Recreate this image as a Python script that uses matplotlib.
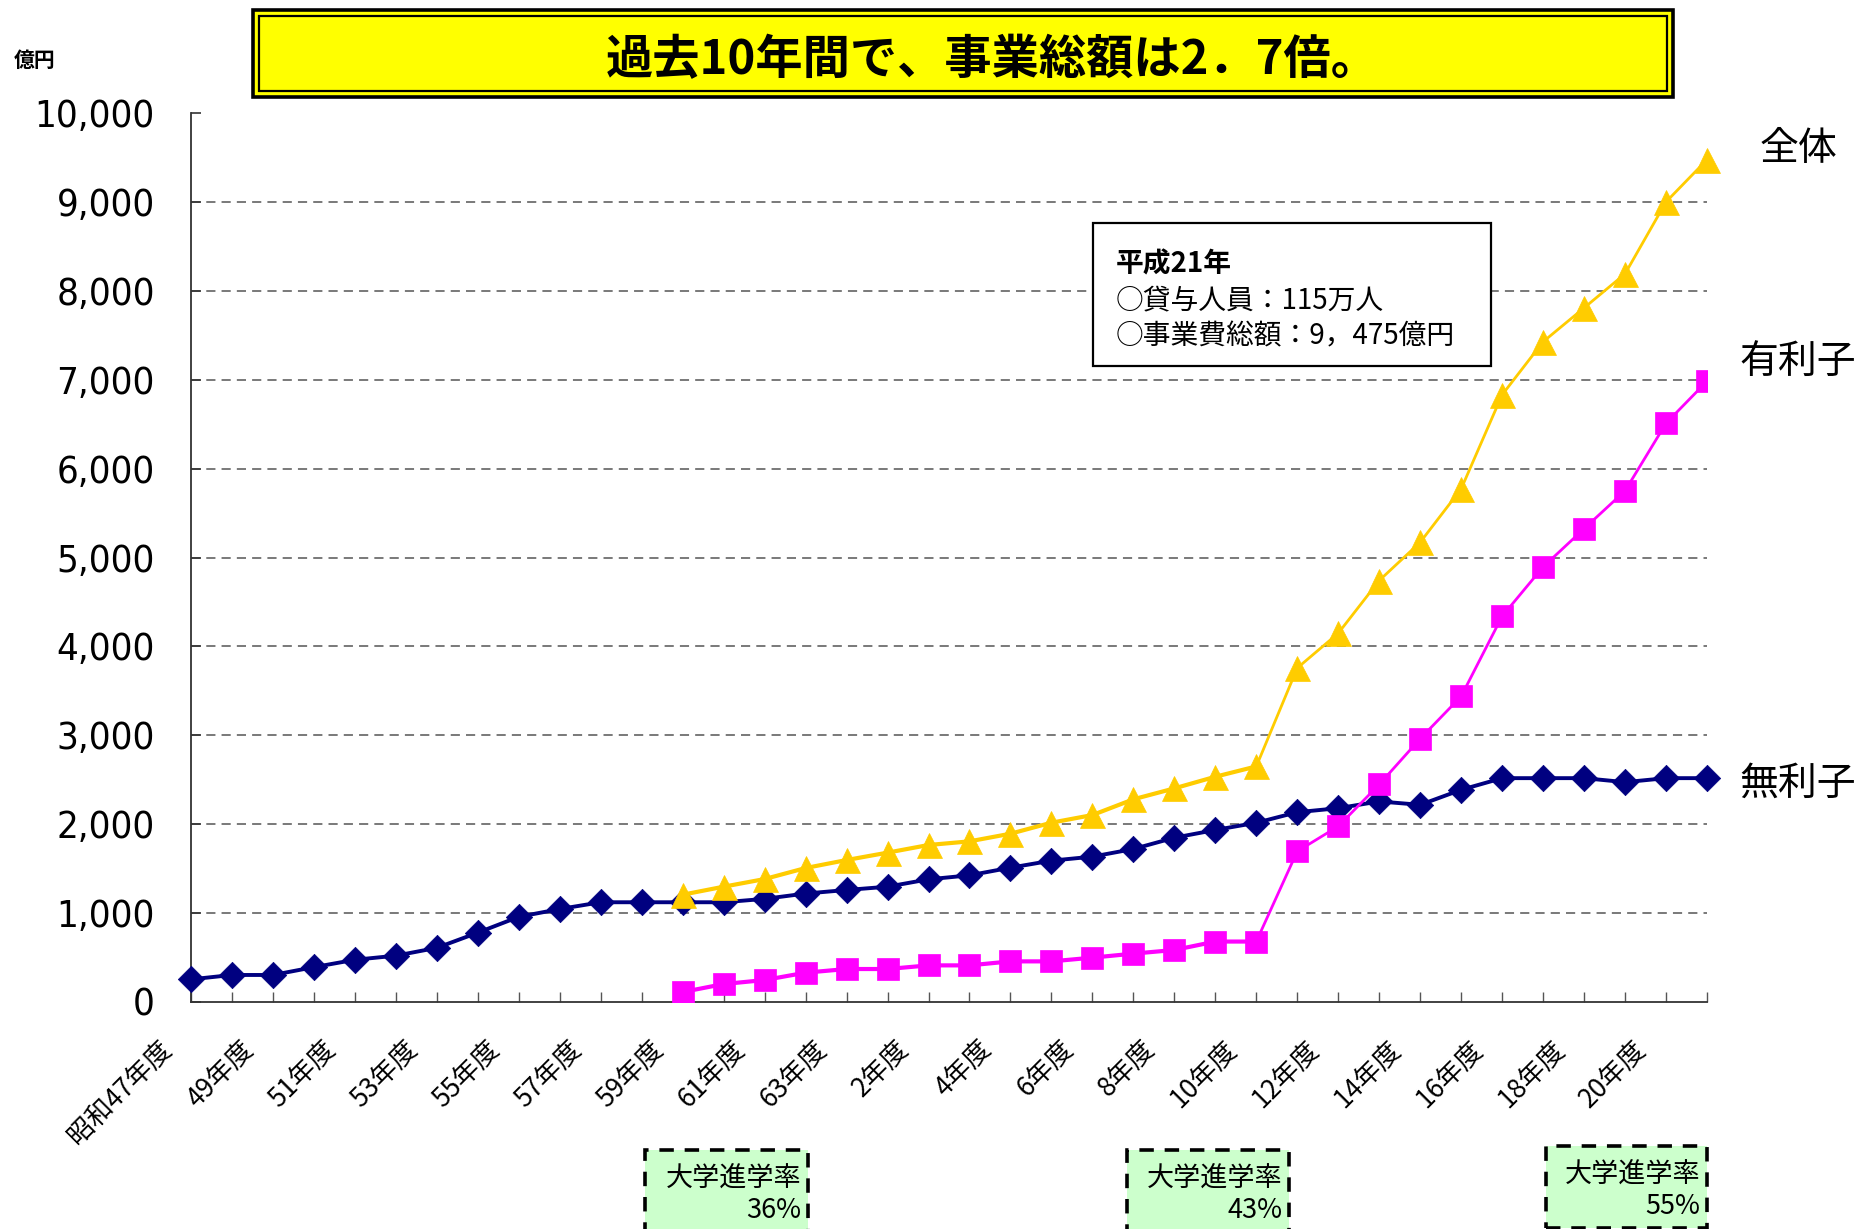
import numpy as np
import matplotlib
matplotlib.use("Agg")
import matplotlib.pyplot as plt
from matplotlib.path import Path
from matplotlib.patches import Rectangle
from matplotlib.transforms import ScaledTranslation

plt.rcParams['font.family'] = ['Noto Sans CJK JP', 'DejaVu Sans']

# ---------------- data ----------------
categories = ["昭和47年度", "48年度", "49年度", "50年度", "51年度", "52年度", "53年度",
              "54年度", "55年度", "56年度", "57年度", "58年度", "59年度", "60年度",
              "61年度", "62年度", "63年度", "元年度", "2年度", "3年度", "4年度",
              "5年度", "6年度", "7年度", "8年度", "9年度", "10年度", "11年度",
              "12年度", "13年度", "14年度", "15年度", "16年度", "17年度", "18年度",
              "19年度", "20年度", "21年度"]

muri = [255, 304, 304, 392, 475, 521, 609, 780, 958, 1046, 1122, 1122, 1122, 1122,
        1160, 1220, 1260, 1297, 1380, 1425, 1511, 1590, 1635, 1721, 1848, 1935,
        2016, 2135, 2180, 2256, 2218, 2387, 2518, 2518, 2518, 2473, 2518, 2518]

yuri = [None] * 12 + [112, 202, 247, 330, 371, 371, 412, 412, 457, 457, 499, 544,
                      585, 680, 680, 1695, 1976, 2447, 2962, 3438, 4339, 4894,
                      5324, 5750, 6510, 6983]

zentai = [None] * 12 + [1207, 1297, 1383, 1507, 1597, 1680, 1766, 1807, 1893, 2017,
                        2103, 2280, 2403, 2534, 2650, 3757, 4148, 4741, 5171, 5772,
                        6830, 7427, 7808, 8191, 9000, 9475]

yticks = [0, 1000, 2000, 3000, 4000, 5000, 6000, 7000, 8000, 9000, 10000]
ytick_labels = ["0", "1,000", "2,000", "3,000", "4,000", "5,000", "6,000",
                "7,000", "8,000", "9,000", "10,000"]

title = "過去10年間で、事業総額は2．7倍。"
unit_label = "億円"
series_names = ["全体", "有利子", "無利子"]
info_lines = ["平成21年", "○貸与人員：115万人", "○事業費総額：9，475億円"]
rate_boxes = [("大学進学率", "36%"), ("大学進学率", "43%"), ("大学進学率", "55%")]

# ---------------- figure ----------------
W, H = 1863, 1229
DPI = 100
fig = plt.figure(figsize=(W / DPI, H / DPI), dpi=DPI)


def fx(x):
    return x / W


def fy(y):
    return 1 - y / H


ax_l, ax_r, ax_t, ax_b = 191, 1707, 113, 1002
ax = fig.add_axes([fx(ax_l), fy(ax_b), fx(ax_r - ax_l), (ax_b - ax_t) / H])

x = np.arange(len(categories))
m = np.array(muri, dtype=float)
yu = np.array([np.nan if v is None else v for v in yuri], dtype=float)
ze = np.array([np.nan if v is None else v for v in zentai], dtype=float)

NAVY = "#000080"
MAG = "#FF00FF"
GOLD = "#FFCC00"

diamond = Path([(0, 1), (1, 0), (0, -1), (-1, 0), (0, 1)],
               [Path.MOVETO, Path.LINETO, Path.LINETO, Path.LINETO, Path.CLOSEPOLY])

split = 26  # lines become thinner after this point

ax.plot(x, m, color=NAVY, lw=2.8, marker=diamond, ms=19, mfc=NAVY, mec=NAVY,
        mew=0.5, zorder=3, clip_on=False)

ax.plot(x[:split + 1], yu[:split + 1], color=MAG, lw=3.0, zorder=4)
ax.plot(x[split:], yu[split:], color=MAG, lw=2.0, zorder=4)
ax.plot(x, yu, ls="none", marker="s", ms=16, mfc=MAG, mec=MAG, mew=0.5, zorder=5)

ax.plot(x[:split + 1], ze[:split + 1], color=GOLD, lw=3.0, zorder=6)
ax.plot(x[split:], ze[split:], color=GOLD, lw=2.0, zorder=6)
ax.plot(x, ze, ls="none", marker="^", ms=18, mfc=GOLD, mec=GOLD, mew=0.5,
        zorder=7, clip_on=False)

ax.set_xlim(0, len(categories) - 1)
ax.set_ylim(0, 10000)

ax.set_yticks(yticks)
ax.set_yticklabels(ytick_labels, family='DejaVu Sans', fontstretch='condensed',
                   fontsize=27.5)
ax.tick_params(axis='y', direction='in', length=7, width=1.2, pad=26, colors='#333333',
               labelcolor='black')

ax.set_xticks(x)
ax.set_xticklabels([c if i % 2 == 0 else "" for i, c in enumerate(categories)],
                   rotation=45, ha='right', va='top', fontsize=19)
ax.tick_params(axis='x', direction='in', length=7, width=1.0, pad=24, colors='#555555',
               labelcolor='black')
offset = ScaledTranslation(-14 / DPI, 0, fig.dpi_scale_trans)
for lab in ax.get_xticklabels():
    lab.set_transform(lab.get_transform() + offset)

for v in yticks[1:-1]:
    ax.axhline(v, color='#555555', lw=1.1, ls=(0, (6, 4)), zorder=1)

for s in ['top', 'right']:
    ax.spines[s].set_visible(False)
ax.spines['left'].set_color('#333333')
ax.spines['bottom'].set_color('#333333')
ax.spines['left'].set_linewidth(1.3)
ax.spines['bottom'].set_linewidth(1.3)

# ---------------- title box ----------------
fig.patches.append(Rectangle((fx(253), fy(97)), fx(1673 - 253), (97 - 10) / H,
                             transform=fig.transFigure, facecolor='#FFFF00',
                             edgecolor='black', lw=2.6, zorder=1))
fig.patches.append(Rectangle((fx(259), fy(91)), fx(1661 - 259 + 6), (91 - 16) / H,
                             transform=fig.transFigure, facecolor='none',
                             edgecolor='black', lw=1.6, zorder=2))
fig.text(fx(992), fy(60), title, ha='center', va='center', fontsize=34,
         fontweight='bold', zorder=3)

fig.text(fx(14), fy(60), unit_label, ha='left', va='center', fontsize=15,
         fontweight='bold')

# ---------------- info box ----------------
fig.patches.append(Rectangle((fx(1093), fy(366)), fx(1491 - 1093), (366 - 223) / H,
                             transform=fig.transFigure, facecolor='white',
                             edgecolor='black', lw=1.6, zorder=5))
fig.text(fx(1116), fy(264), info_lines[0], ha='left', va='center', fontsize=20,
         fontweight='bold', zorder=6)
fig.text(fx(1116), fy(300), info_lines[1], ha='left', va='center', fontsize=20,
         zorder=6)
fig.text(fx(1116), fy(336), info_lines[2], ha='left', va='center', fontsize=20,
         zorder=6)

# ---------------- series labels ----------------
fig.text(fx(1798), fy(149), series_names[0], ha='center', va='center', fontsize=28)
fig.text(fx(1798), fy(362), series_names[1], ha='center', va='center', fontsize=28)
fig.text(fx(1798), fy(784), series_names[2], ha='center', va='center', fontsize=28)

# ---------------- rate boxes ----------------
box_pos = [(645, 808, 1150, 1232), (1127, 1289, 1150, 1232), (1546, 1707, 1146, 1228)]
for (l, r, t, b), (t1, t2) in zip(box_pos, rate_boxes):
    fig.patches.append(Rectangle((fx(l), fy(b)), fx(r - l), (b - t) / H,
                                 transform=fig.transFigure, facecolor='#CCFFCC',
                                 edgecolor='black', lw=2.6, ls=(0, (4, 3)),
                                 zorder=1, clip_on=False))
    fig.text(fx(r - 7), fy(t + 28), t1, ha='right', va='center', fontsize=19.5)
    fig.text(fx(r - 7), fy(t + 60), t2, ha='right', va='center', fontsize=19.5)

fig.savefig("out.png", dpi=DPI)
